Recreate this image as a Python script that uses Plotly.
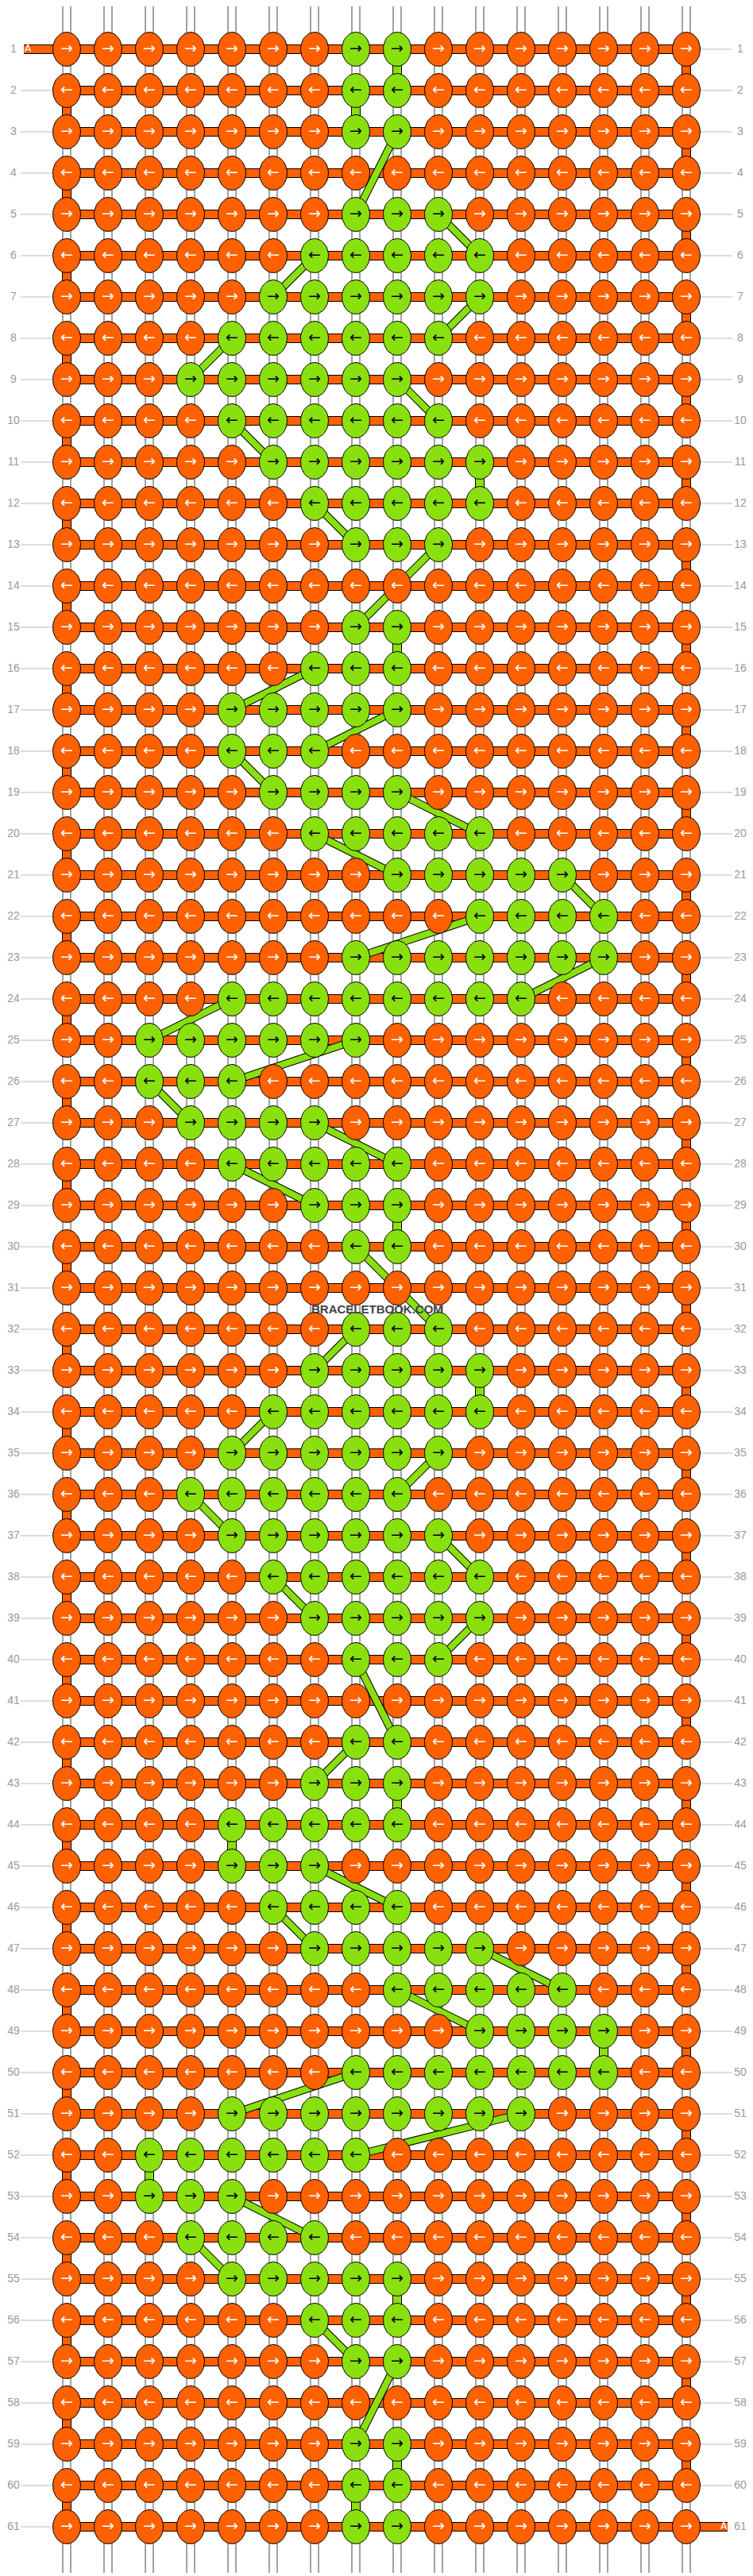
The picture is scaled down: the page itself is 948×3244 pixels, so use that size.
import numpy as np
import plotly.graph_objects as go

ORANGE = "#ff6000"
GREEN = "#8ae00f"

n_rows = 61
n_cols = 16

# green knots per row (1-based columns), every other knot is orange
green_cols = {
    1: [8, 9], 2: [8, 9], 3: [8, 9], 4: [],
    5: [8, 9, 10], 6: [7, 8, 9, 10, 11], 7: [6, 7, 8, 9, 10, 11],
    8: [5, 6, 7, 8, 9, 10], 9: [4, 5, 6, 7, 8, 9], 10: [5, 6, 7, 8, 9, 10],
    11: [6, 7, 8, 9, 10, 11], 12: [7, 8, 9, 10, 11], 13: [8, 9, 10], 14: [],
    15: [8, 9], 16: [7, 8, 9], 17: [5, 6, 7, 8, 9], 18: [5, 6, 7],
    19: [6, 7, 8, 9], 20: [7, 8, 9, 10, 11], 21: [9, 10, 11, 12, 13],
    22: [11, 12, 13, 14], 23: [8, 9, 10, 11, 12, 13, 14],
    24: [5, 6, 7, 8, 9, 10, 11, 12], 25: [3, 4, 5, 6, 7, 8], 26: [3, 4, 5],
    27: [4, 5, 6, 7], 28: [5, 6, 7, 8, 9], 29: [7, 8, 9], 30: [8, 9], 31: [],
    32: [8, 9, 10], 33: [7, 8, 9, 10, 11], 34: [6, 7, 8, 9, 10, 11],
    35: [5, 6, 7, 8, 9, 10], 36: [4, 5, 6, 7, 8, 9], 37: [5, 6, 7, 8, 9, 10],
    38: [6, 7, 8, 9, 10, 11], 39: [7, 8, 9, 10, 11], 40: [8, 9, 10], 41: [],
    42: [8, 9], 43: [7, 8, 9], 44: [5, 6, 7, 8, 9], 45: [5, 6, 7],
    46: [6, 7, 8, 9], 47: [7, 8, 9, 10, 11], 48: [9, 10, 11, 12, 13],
    49: [11, 12, 13, 14], 50: [8, 9, 10, 11, 12, 13, 14],
    51: [5, 6, 7, 8, 9, 10, 11, 12], 52: [3, 4, 5, 6, 7, 8], 53: [3, 4, 5],
    54: [4, 5, 6, 7], 55: [5, 6, 7, 8, 9], 56: [7, 8, 9], 57: [8, 9], 58: [],
    59: [8, 9], 60: [8, 9], 61: [8, 9],
}

# green strand running straight down: (row, col) -> next row
green_vertical = [(1, 9), (2, 8), (11, 11), (15, 9), (29, 9), (33, 11), (43, 9),
                  (44, 5), (49, 14), (52, 3), (55, 9), (59, 9), (60, 8)]

# green strand moving sideways: (row_from, col_from, row_to, col_to)
green_diagonal = [
    (3, 9, 5, 8), (5, 10, 6, 11), (6, 7, 7, 6), (7, 11, 8, 10), (8, 5, 9, 4),
    (9, 9, 10, 10), (10, 5, 11, 6), (12, 7, 13, 8), (13, 10, 15, 8), (16, 7, 17, 5),
    (17, 9, 18, 7), (18, 5, 19, 6), (19, 9, 20, 11), (20, 7, 21, 9), (21, 13, 22, 14),
    (22, 11, 23, 8), (23, 14, 24, 12), (24, 5, 25, 3), (25, 8, 26, 5), (26, 3, 27, 4),
    (27, 7, 28, 9), (28, 5, 29, 7), (30, 8, 32, 10), (32, 8, 33, 7), (34, 6, 35, 5),
    (35, 10, 36, 9), (36, 4, 37, 5), (37, 10, 38, 11), (38, 6, 39, 7), (39, 11, 40, 10),
    (40, 8, 42, 9), (42, 8, 43, 7), (45, 7, 46, 9), (46, 6, 47, 7), (47, 11, 48, 13),
    (48, 9, 49, 11), (50, 8, 51, 5), (51, 12, 52, 8), (53, 5, 54, 7), (54, 4, 55, 5),
    (56, 7, 57, 8), (57, 9, 59, 8),
]

X0, DX = 84, 52
Y0, DY = 62, 52
RX, RY = 17.5, 21.5
PAGE_OFFSET = 8  # browser body margin


def kx(c):
    return X0 + DX * (c - 1)


def ky(r):
    return Y0 + DY * (r - 1)


def segs(pairs):
    xs, ys = [], []
    for (xa, ya), (xb, yb) in pairs:
        xs += [xa, xb, None]
        ys += [ya, yb, None]
    return xs, ys


fig = go.Figure()


def add_strand(pairs, color, width, edge="#000000", edge_w=2):
    xs, ys = segs(pairs)
    fig.add_trace(go.Scatter(x=xs, y=ys, mode="lines", hoverinfo="skip",
                             line=dict(color=edge, width=width + edge_w)))
    fig.add_trace(go.Scatter(x=xs, y=ys, mode="lines", hoverinfo="skip",
                             line=dict(color=color, width=width)))


# base white strings
add_strand([((kx(c), 5), (kx(c), 3240)) for c in range(1, n_cols + 1)],
           "#ffffff", 9, edge="#444444", edge_w=2)

# orange strand turning at the edges
edge_links = []
for r in range(1, n_rows):
    c = 1 if r % 2 == 0 else n_cols
    edge_links.append(((kx(c), ky(r)), (kx(c), ky(r + 1))))
add_strand(edge_links, ORANGE, 10)

add_strand([((kx(c), ky(r)), (kx(c), ky(r + 1))) for r, c in green_vertical], GREEN, 10)

# horizontal working strands
rows_h = []
for r in range(1, n_rows + 1):
    xa = 30 if r == 1 else kx(1)
    xb = 916 if r == n_rows else kx(n_cols)
    rows_h.append(((xa, ky(r)), (xb, ky(r))))
add_strand(rows_h, ORANGE, 10)

add_strand([((kx(c1), ky(r1)), (kx(c2), ky(r2))) for r1, c1, r2, c2 in green_diagonal],
           GREEN, 8)

# knots
t = np.linspace(0, 2 * np.pi, 40)
for color in (ORANGE, GREEN):
    xs, ys = [], []
    for r in range(1, n_rows + 1):
        for c in range(1, n_cols + 1):
            is_green = c in green_cols[r]
            if is_green != (color == GREEN):
                continue
            xs += list(kx(c) + RX * np.cos(t)) + [None]
            ys += list(ky(r) + RY * np.sin(t)) + [None]
    fig.add_trace(go.Scatter(x=xs, y=ys, mode="lines", fill="toself", fillcolor=color,
                             line=dict(color="#000000", width=1), hoverinfo="skip"))

# arrows
for color, txt_color in ((ORANGE, "#ffffff"), (GREEN, "#000000")):
    xs, ys, txt = [], [], []
    for r in range(1, n_rows + 1):
        for c in range(1, n_cols + 1):
            if (c in green_cols[r]) != (color == GREEN):
                continue
            xs.append(kx(c))
            ys.append(ky(r))
            txt.append("→" if r % 2 == 1 else "←")
    fig.add_trace(go.Scatter(x=xs, y=ys, mode="text", text=txt, hoverinfo="skip",
                             textfont=dict(color=txt_color, size=19,
                                           family="DejaVu Sans Bold, DejaVu Sans")))

# row label guide lines
gl = []
for r in range(2, n_rows + 1):
    gl.append(((26, ky(r)), (66, ky(r))))
for r in range(1, n_rows):
    gl.append(((882, ky(r)), (922, ky(r))))
gx, gy = segs(gl)
fig.add_trace(go.Scatter(x=gx, y=gy, mode="lines", hoverinfo="skip",
                         line=dict(color="#bbbbbb", width=1)))

rows = list(range(1, n_rows + 1))
fig.add_trace(go.Scatter(x=[17] * n_rows, y=[ky(r) for r in rows], mode="text",
                         text=[str(r) for r in rows], hoverinfo="skip",
                         textfont=dict(color="#999999", size=14, family="Liberation Sans Narrow, Arial")))
fig.add_trace(go.Scatter(x=[932] * n_rows, y=[ky(r) for r in rows], mode="text",
                         text=[str(r) for r in rows], hoverinfo="skip",
                         textfont=dict(color="#999999", size=14, family="Liberation Sans Narrow, Arial")))

fig.add_trace(go.Scatter(x=[35, 911], y=[ky(1), ky(n_rows)], mode="text", text=["A", "A"],
                         hoverinfo="skip",
                         textfont=dict(color="#ffffff", size=12, family="DejaVu Sans")))

fig.add_annotation(x=475, y=1648, text="<b>BRACELETBOOK.COM</b>", showarrow=False,
                   font=dict(color="#444444", size=15, family="Liberation Sans Narrow, Arial"))

fig.update_layout(
    width=948, height=3244, margin=dict(l=0, r=0, t=0, b=0),
    plot_bgcolor="white", paper_bgcolor="white", showlegend=False,
    xaxis=dict(range=[PAGE_OFFSET, 948 + PAGE_OFFSET], visible=False, fixedrange=True),
    yaxis=dict(range=[3244 + PAGE_OFFSET, PAGE_OFFSET], visible=False, fixedrange=True),
)

fig.write_html("out.html")
